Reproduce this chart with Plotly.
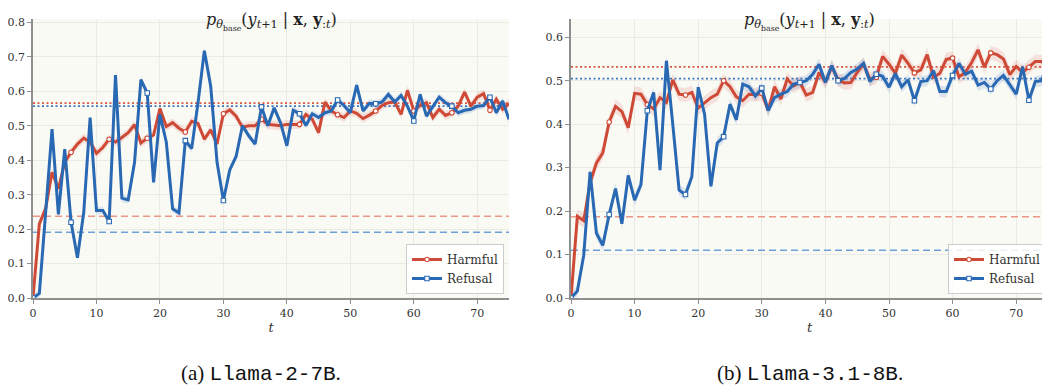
import plotly.graph_objects as go

# ---------------- data ----------------
t = list(range(76))

harmful_llama2 = [0.0, 0.215, 0.26, 0.365, 0.317, 0.394, 0.423, 0.447, 0.464, 0.453,
                  0.42, 0.437, 0.461, 0.453, 0.466, 0.48, 0.503, 0.45, 0.464, 0.473,
                  0.55, 0.498, 0.509, 0.493, 0.482, 0.513, 0.507, 0.461, 0.488, 0.447,
                  0.535, 0.546, 0.528, 0.496, 0.50, 0.50, 0.519, 0.504, 0.502, 0.50,
                  0.504, 0.504, 0.504, 0.533, 0.519, 0.48, 0.569, 0.543, 0.532, 0.524,
                  0.543, 0.536, 0.521, 0.531, 0.543, 0.559, 0.567, 0.569, 0.533, 0.603,
                  0.543, 0.559, 0.567, 0.524, 0.548, 0.53, 0.538, 0.557, 0.598, 0.557,
                  0.583, 0.593, 0.545, 0.577, 0.548, 0.565]
refusal_llama2 = [0.0, 0.013, 0.25, 0.49, 0.243, 0.432, 0.22, 0.117, 0.249, 0.524,
                  0.254, 0.254, 0.222, 0.647, 0.29, 0.285, 0.394, 0.634, 0.595, 0.336,
                  0.533, 0.453, 0.259, 0.247, 0.457, 0.434, 0.567, 0.718, 0.615, 0.394,
                  0.283, 0.372, 0.411, 0.50, 0.471, 0.447, 0.555, 0.50, 0.552, 0.509,
                  0.442, 0.545, 0.535, 0.501, 0.535, 0.524, 0.538, 0.543, 0.575, 0.559,
                  0.538, 0.618, 0.543, 0.565, 0.564, 0.569, 0.591, 0.569, 0.588, 0.557,
                  0.514, 0.591, 0.528, 0.557, 0.583, 0.567, 0.557, 0.538, 0.545, 0.548,
                  0.557, 0.559, 0.583, 0.538, 0.572, 0.519]
harmful_llama31 = [0.0, 0.188, 0.178, 0.265, 0.311, 0.334, 0.405, 0.441, 0.429, 0.392,
                   0.471, 0.469, 0.445, 0.435, 0.461, 0.45, 0.502, 0.469, 0.467, 0.473,
                   0.437, 0.45, 0.461, 0.469, 0.50, 0.486, 0.463, 0.454, 0.469, 0.468,
                   0.471, 0.432, 0.486, 0.458, 0.504, 0.488, 0.496, 0.467, 0.473, 0.519,
                   0.496, 0.532, 0.502, 0.495, 0.496, 0.519, 0.538, 0.504, 0.508, 0.556,
                   0.538, 0.517, 0.559, 0.54, 0.518, 0.525, 0.56, 0.508, 0.517, 0.549,
                   0.552, 0.509, 0.519, 0.542, 0.571, 0.531, 0.564, 0.56, 0.55, 0.514,
                   0.533, 0.519, 0.531, 0.544, 0.544, 0.532]
refusal_llama31 = [0.0, 0.016, 0.098, 0.29, 0.149, 0.121, 0.192, 0.252, 0.171, 0.282,
                   0.225, 0.261, 0.431, 0.473, 0.294, 0.546, 0.40, 0.248, 0.238, 0.279,
                   0.485, 0.423, 0.257, 0.357, 0.371, 0.446, 0.41, 0.492, 0.486, 0.465,
                   0.483, 0.431, 0.461, 0.469, 0.475, 0.492, 0.496, 0.50, 0.515, 0.538,
                   0.496, 0.535, 0.50, 0.505, 0.519, 0.527, 0.54, 0.498, 0.515, 0.51,
                   0.485, 0.517, 0.486, 0.502, 0.454, 0.498, 0.50, 0.523, 0.475, 0.475,
                   0.512, 0.54, 0.515, 0.522, 0.49, 0.496, 0.481, 0.50, 0.512, 0.49,
                   0.469, 0.532, 0.455, 0.498, 0.50, 0.542]

# confidence-band half widths (estimated)
band_llama2 = [0.013, 0.011]
band_llama31 = [0.016, 0.013]

# reference levels: [harmful dotted, refusal dotted, harmful dashed, refusal dashed]
ref_llama2 = [0.566, 0.557, 0.237, 0.191]
ref_llama31 = [0.532, 0.505, 0.187, 0.110]

series_names = ["Harmful", "Refusal"]
captions = ["(a) ", "(b) "]
model_names = ["Llama-2-7B", "Llama-3.1-8B"]
x_ticks = [0, 10, 20, 30, 40, 50, 60, 70]

# ---------------- style ----------------
OFF = 8                      # page body margin in the browser
W, H = 1050 - OFF, 390 - OFF
RED, BLUE = "#cf4a36", "#2968b2"
RED_BAND, BLUE_BAND = "rgba(220,100,90,0.16)", "rgba(60,120,200,0.16)"
RED_DASH, BLUE_DASH = "#ea9787", "#6e9fd8"
RED_DOT, BLUE_DOT = "#d9563f", "#3a76c0"
SERIF = "DejaVu Serif, Liberation Serif, serif"
BG = "#fafaf5"
GRID = "#ebebe6"
SPINE = "#8f8f8f"


def px_x(x):
    return (x - OFF) / W


def px_y(y):
    return (H - (y - OFF)) / H


panels = [
    dict(h=harmful_llama2, r=refusal_llama2, band=band_llama2, ref=ref_llama2,
         xd=[px_x(33), px_x(509)], ymax=0.81, legend="legend", lx=504, cap=261),
    dict(h=harmful_llama31, r=refusal_llama31, band=band_llama31, ref=ref_llama31,
         xd=[px_x(571), px_x(1048)], ymax=0.642, legend="legend2", lx=1046, cap=810),
]
ydom = [px_y(298), px_y(19)]

fig = go.Figure()
for i, p in enumerate(panels):
    xa = "x" if i == 0 else "x2"
    ya = "y" if i == 0 else "y2"
    for vals, bw, bcol in [(p["h"], p["band"][0], RED_BAND), (p["r"], p["band"][1], BLUE_BAND)]:
        upper = [v + bw for v in vals]
        lower = [max(v - bw, 0) for v in vals]
        fig.add_trace(go.Scatter(x=t + t[::-1], y=upper + lower[::-1], fill="toself",
                                 fillcolor=bcol, line=dict(width=0), hoverinfo="skip",
                                 showlegend=False, xaxis=xa, yaxis=ya))
    for ls, col, idx in [("dot", RED_DOT, 0), ("dot", BLUE_DOT, 1),
                         ("dash", RED_DASH, 2), ("dash", BLUE_DASH, 3)]:
        dash = "2px,2.5px" if ls == "dot" else "7px,4px"
        lw = 1.8 if ls == "dot" else 1.5
        fig.add_trace(go.Scatter(x=[t[0], t[-1]], y=[p["ref"][idx]] * 2, mode="lines",
                                 line=dict(color=col, width=lw, dash=dash),
                                 showlegend=False, hoverinfo="skip", xaxis=xa, yaxis=ya))
    for vals, col, sym, name in [
        (p["h"], RED, "circle", series_names[0]),
        (p["r"], BLUE, "square", series_names[1]),
    ]:
        fig.add_trace(go.Scatter(x=t, y=vals, mode="lines", line=dict(color=col, width=3),
                                 showlegend=False, xaxis=xa, yaxis=ya))
        fig.add_trace(go.Scatter(x=t[::6], y=vals[::6], mode="markers",
                                 marker=dict(symbol=sym, size=4.5, color="white",
                                             line=dict(color=col, width=1.1)),
                                 showlegend=False, xaxis=xa, yaxis=ya))
        fig.add_trace(go.Scatter(x=[None], y=[None], mode="lines+markers", name=name,
                                 line=dict(color=col, width=3),
                                 marker=dict(symbol=sym, size=4.5, color="white",
                                             line=dict(color=col, width=1.1)),
                                 legend=p["legend"], xaxis=xa, yaxis=ya))

axis_common = dict(showgrid=True, gridcolor=GRID, gridwidth=1, zeroline=False,
                   showline=True, linecolor=SPINE, linewidth=1.6, ticks="outside",
                   ticklen=4, tickcolor=SPINE, tickwidth=1.2,
                   tickfont=dict(family=SERIF, size=11, color="#333333"),
                   automargin=False)

layout = dict(width=W, height=H, margin=dict(l=0, r=0, t=0, b=0),
              paper_bgcolor="white", plot_bgcolor=BG, font=dict(family=SERIF))
for i, p in enumerate(panels):
    sx = "" if i == 0 else "2"
    layout["xaxis" + sx] = dict(axis_common, domain=p["xd"], range=[0, 75],
                                tickvals=x_ticks, anchor="y" + sx,
                                title=dict(text="<i>t</i>", standoff=4,
                                           font=dict(family=SERIF, size=13, color="#333333")))
    layout["yaxis" + sx] = dict(axis_common, domain=ydom, range=[0, p["ymax"]],
                                dtick=0.1, tickformat=".1f", anchor="x" + sx)
    layout[p["legend"]] = dict(x=px_x(p["lx"]), xanchor="right",
                               y=px_y(294), yanchor="bottom",
                               bgcolor="rgba(255,255,255,0.85)", bordercolor="#cccccc",
                               borderwidth=1, font=dict(family=SERIF, size=12, color="#333333"),
                               itemwidth=30, tracegroupgap=0)
fig.update_layout(**layout)

title_txt = ("<i>p</i><sub><i>θ</i><sub>base</sub></sub>(<i>y</i><sub><i>t</i>+1</sub>"
             " | <b>x</b>, <b>y</b><sub>:<i>t</i></sub>)")
for i, p in enumerate(panels):
    cx = (p["xd"][0] + p["xd"][1]) / 2
    fig.add_annotation(x=cx, y=1.0, xref="paper", yref="paper", xanchor="center",
                       yanchor="top", showarrow=False, text=title_txt,
                       font=dict(family=SERIF, size=16, color="#222222"))
    fig.add_annotation(x=px_x(p["cap"]), y=px_y(373), xref="paper", yref="paper",
                       xanchor="center", yanchor="middle", showarrow=False,
                       text=captions[i] + "<span style='font-family:Liberation Mono'>"
                            + model_names[i] + "</span>.",
                       font=dict(family="Liberation Serif, serif", size=21, color="#111111"))

fig.write_html("out.html")
